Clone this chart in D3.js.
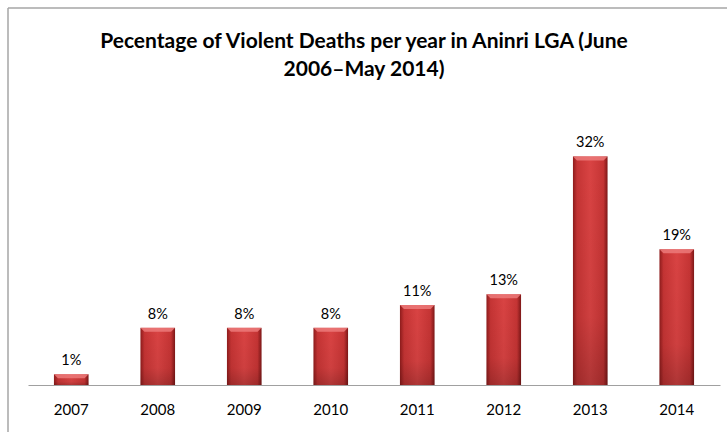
<!DOCTYPE html>
<html>
<head>
<meta charset="utf-8">
<script src="https://cdn.jsdelivr.net/npm/d3@7"></script>
<style>
  body { margin: 0; background: #fff; }
  svg { display: block; }
</style>
</head>
<body>
<svg id="chart" width="727" height="432"></svg>
<script>
// chart data
let years = ["2007", "2008", "2009", "2010", "2011", "2012", "2013", "2014"];
let shares = [1.5, 8, 8, 8, 11.2, 12.7, 32, 19];
let shareLabels = ["1%", "8%", "8%", "8%", "11%", "13%", "32%", "19%"];
let titleLines = ["Pecentage of Violent Deaths per year in Aninri LGA (June", "2006\u2013May 2014)"];

let svg = d3.select("#chart");
let font = "Lato, 'Open Sans', sans-serif";

// frame (only top and left edges visible)
svg.append("line").attr("x1", 8).attr("y1", 8).attr("x2", 727).attr("y2", 8)
  .attr("stroke", "#a6a6a6").attr("stroke-width", 1.5);
svg.append("line").attr("x1", 8).attr("y1", 8).attr("x2", 8).attr("y2", 432)
  .attr("stroke", "#a6a6a6").attr("stroke-width", 1.5);

// title
svg.selectAll("text.title")
  .data(titleLines)
  .enter().append("text")
  .attr("class", "title")
  .attr("x", 364)
  .attr("y", (d, i) => 48 + i * 28)
  .attr("text-anchor", "middle")
  .style("font-family", font)
  .style("font-size", "21px")
  .style("font-weight", "bold")
  .style("fill", "#000")
  .text(d => d);

let margin = { left: 28, right: 7, top: 135, bottom: 47 };
let plotWidth = 727 - margin.left - margin.right;
let plotHeight = 432 - margin.top - margin.bottom;

let x = d3.scaleBand()
  .domain(years)
  .range([0, plotWidth])
  .paddingInner(0.6)
  .paddingOuter(0.3);

let y = d3.scaleLinear()
  .domain([0, 35])
  .range([plotHeight, 0]);

let plot = svg.append("g")
  .attr("transform", "translate(" + margin.left + "," + margin.top + ")");

// bevelled bar look
let defs = svg.append("defs");
let side = defs.append("linearGradient").attr("id", "barSide")
  .attr("x1", "0%").attr("x2", "100%").attr("y1", "0%").attr("y2", "0%");
[["0%", "#8f1c1c"], ["12%", "#c53434"], ["50%", "#d94343"], ["88%", "#c53434"], ["100%", "#7e1717"]]
  .forEach(s => side.append("stop").attr("offset", s[0]).attr("stop-color", s[1]));
let shade = defs.append("linearGradient").attr("id", "barShade")
  .attr("x1", "0%").attr("x2", "0%").attr("y1", "0%").attr("y2", "100%");
[["0%", "#000", 0], ["70%", "#000", 0.05], ["100%", "#000", 0.2]]
  .forEach(s => shade.append("stop").attr("offset", s[0]).attr("stop-color", s[1]).attr("stop-opacity", s[2]));

let bars = plot.selectAll("g.bar")
  .data(shares)
  .enter().append("g")
  .attr("class", "bar");

bars.append("rect")
  .attr("x", (d, i) => x(years[i]))
  .attr("y", d => y(d))
  .attr("width", x.bandwidth())
  .attr("height", d => plotHeight - y(d))
  .attr("fill", "url(#barSide)");

bars.append("rect")
  .attr("x", (d, i) => x(years[i]))
  .attr("y", d => y(d))
  .attr("width", x.bandwidth())
  .attr("height", d => plotHeight - y(d))
  .attr("fill", "url(#barShade)");

// lighter top bevel
bars.append("path")
  .attr("d", (d, i) => {
    let x0 = x(years[i]), x1 = x0 + x.bandwidth(), t = y(d);
    return "M" + x0 + "," + t + "L" + x1 + "," + t + "L" + (x1 - 4) + "," + (t + 4) + "L" + (x0 + 4) + "," + (t + 4) + "Z";
  })
  .attr("fill", "#ec7a7a")
  .attr("opacity", 0.85);

// value labels
plot.selectAll("text.value")
  .data(shares)
  .enter().append("text")
  .attr("class", "value")
  .attr("x", (d, i) => x(years[i]) + x.bandwidth() / 2)
  .attr("y", d => y(d) - 9)
  .attr("text-anchor", "middle")
  .style("font-family", font)
  .style("font-size", "14.5px")
  .style("fill", "#000")
  .text((d, i) => shareLabels[i]);

// x axis
let xAxis = d3.axisBottom(x).tickSize(0).tickPadding(19);
let xGroup = plot.append("g")
  .attr("transform", "translate(0," + plotHeight + ")")
  .call(xAxis);
xGroup.select(".domain").attr("stroke", "#a0a0a0").attr("stroke-width", 1.2);
xGroup.selectAll("text")
  .style("font-family", font)
  .style("font-size", "15px")
  .style("fill", "#000");
</script>
</body>
</html>
